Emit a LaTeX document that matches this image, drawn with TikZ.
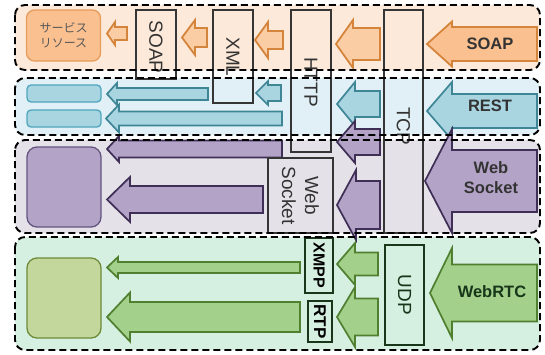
\documentclass[tikz,border=0pt]{standalone}
\usepackage{fontspec}
\setmainfont{Liberation Sans}
\newfontfamily\jpfont{Noto Sans CJK JP}
\usetikzlibrary{positioning}
\definecolor{OrBand}{HTML}{FDE9D9}
\definecolor{OrFill}{HTML}{FAC090}
\definecolor{OrSoft}{HTML}{FBCDA4}
\definecolor{OrLine}{HTML}{D5843C}
\definecolor{OrEdge}{HTML}{E69C5A}
\definecolor{BlBand}{HTML}{E0F0F6}
\definecolor{BlFill}{HTML}{A9D5E1}
\definecolor{BlLine}{HTML}{3E8596}
\definecolor{BlEdge}{HTML}{4FA6BD}
\definecolor{PuBand}{HTML}{E5E1E9}
\definecolor{PuFill}{HTML}{B3A3C7}
\definecolor{PuLine}{HTML}{3F2E55}
\definecolor{PuEdge}{HTML}{64557E}
\definecolor{GrBand}{HTML}{D5F0E1}
\definecolor{GrFill}{HTML}{A3D08A}
\definecolor{GrLine}{HTML}{4F7F2F}
\definecolor{GrBox}{HTML}{C3D69B}
\definecolor{GrEdge}{HTML}{6D8C3A}
\definecolor{GrDark}{HTML}{17361A}
\definecolor{Frame}{HTML}{353535}
\definecolor{DarkText}{HTML}{333333}
\definecolor{SrvText}{HTML}{595959}
\tikzset{
  bandline/.style={draw=black, line width=1.9pt, dash pattern=on 7pt off 4pt, rounded corners=10pt},
  orarr/.style={fill=OrFill, draw=OrLine, line width=1.8pt, line join=miter},
  orsmall/.style={fill=OrSoft, draw=OrLine, line width=1.8pt, line join=miter},
  blarr/.style={fill=BlFill, draw=BlLine, line width=1.7pt, line join=miter},
  puarr/.style={fill=PuFill, draw=PuLine, line width=1.7pt, line join=miter},
  grarr/.style={fill=GrFill, draw=GrLine, line width=1.7pt, line join=miter},
  resbox/.style={rounded corners=#1, line width=1.3pt, inner sep=0pt, minimum width=74pt},
  proto/.style={draw=Frame, line width=1.9pt, inner sep=0pt},
  vlab/.style={rotate=-90, font=\fontsize{19}{23}\selectfont, text=DarkText, align=center},
  vbold/.style={rotate=-90, font=\fontsize{16}{19}\selectfont\bfseries, text=black, inner sep=0pt},
  biglab/.style={font=\fontsize{16.5}{20}\selectfont\bfseries, text=DarkText, align=center}
}
\begin{document}
\begin{tikzpicture}[x=1pt,y=-1pt]
\useasboundingbox (0,0) rectangle (545,354);
% bands
\foreach \ya/\yb/\c in {5/70/OrBand, 78/135/BlBand, 140/233/PuBand, 237/350/GrBand}
  \fill[\c, rounded corners=10pt] (15,\ya) rectangle (540,\yb);

% block arrows: tip x / centre y / head base x / end x / half body / half head
\foreach \tx/\cy/\bx/\ex/\bh/\hh in {427/44/452/537/17/22.5}
  \draw[orarr] (\tx,\cy) -- (\bx,\cy-\hh) -- (\bx,\cy-\bh) -- (\ex,\cy-\bh) -- (\ex,\cy+\bh) -- (\bx,\cy+\bh) -- (\bx,\cy+\hh) -- cycle;
\foreach \tx/\cy/\bx/\ex/\bh/\hh in {107/33.5/115/127/6.5/11.5, 182/37.5/195/207/9.5/17.5, 255/40/268/283/9/18, 336/44/353/380/16/24}
  \draw[orsmall] (\tx,\cy) -- (\bx,\cy-\hh) -- (\bx,\cy-\bh) -- (\ex,\cy-\bh) -- (\ex,\cy+\bh) -- (\bx,\cy+\bh) -- (\bx,\cy+\hh) -- cycle;
\foreach \tx/\cy/\bx/\ex/\bh/\hh in {107/94/117/208/6/11, 106/118.5/119/282/7/14, 256/93/268/281/8/12, 337/104/355/380/13/22, 427/111/452/537/17/29}
  \draw[blarr] (\tx,\cy) -- (\bx,\cy-\hh) -- (\bx,\cy-\bh) -- (\ex,\cy-\bh) -- (\ex,\cy+\bh) -- (\bx,\cy+\bh) -- (\bx,\cy+\hh) -- cycle;
\foreach \tx/\cy/\bx/\ex/\bh/\hh in {107/149/119/282/8.5/13, 107/199.5/130/263/13.5/22.5, 337/142/355/380/13/21, 337/205/356/380/24/35, 425/181/452/537/31/52}
  \draw[puarr] (\tx,\cy) -- (\bx,\cy-\hh) -- (\bx,\cy-\bh) -- (\ex,\cy-\bh) -- (\ex,\cy+\bh) -- (\bx,\cy+\bh) -- (\bx,\cy+\hh) -- cycle;
\foreach \tx/\cy/\bx/\ex/\bh/\hh in {107/267.5/118/300/5.5/10.5, 107/317/130/300/15/24.5, 337/264/355/378/11.5/21, 337/317/355/378/18.5/30, 430/293/452/537/28.5/45}
  \draw[grarr] (\tx,\cy) -- (\bx,\cy-\hh) -- (\bx,\cy-\bh) -- (\ex,\cy-\bh) -- (\ex,\cy+\bh) -- (\bx,\cy+\bh) -- (\bx,\cy+\hh) -- cycle;

% resources
\node[resbox=8pt, fill=OrFill, draw=OrEdge, minimum height=51pt, text=SrvText, align=center,
  font=\jpfont\fontsize{12}{15}\selectfont] (srv) at (63.5,35.5) {サービス\\リソース};
\node[resbox=4pt, fill=BlFill, draw=BlEdge, minimum height=17pt] (rest1) at (64,93.5) {};
\node[resbox=4pt, fill=BlFill, draw=BlEdge, minimum height=17pt] (rest2) at (64,118.5) {};
\node[resbox=10pt, fill=PuFill, draw=PuEdge, minimum height=80pt] (wsres) at (64,187) {};
\node[resbox=10pt, fill=GrBox, draw=GrEdge, minimum height=80pt] (rtcres) at (64,298) {};

% protocol stack
\node[proto, minimum width=40pt, minimum height=69pt] (soap) at (156,44.5) {};
\node[vlab] (soaplab) at (156,47) {SOAP};
\node[proto, minimum width=40pt, minimum height=93pt] (xml) at (233,56.5) {};
\node[vlab] (xmllab) at (233,57) {XML};
\node[proto, minimum width=40pt, minimum height=142pt] (http) at (311,81) {};
\node[vlab] (httplab) at (311,82) {HTTP};
\node[proto, minimum width=39pt, minimum height=223pt] (tcp) at (403.5,121.5) {};
\node[vlab] (tcplab) at (403.5,126) {TCP};
\node[proto, minimum width=65pt, minimum height=75pt, fill=PuBand] (ws) at (300.5,195.5) {};
\node[vlab] (wslab) at (ws.center) {Web\\Socket};
\node[proto, minimum width=28pt, minimum height=55pt, draw=GrDark, line width=1.5pt] (xmpp) at (319,265.5) {};
\node[vbold] (xmpplab) at (xmpp.center) {XMPP};
\node[proto, minimum width=24pt, minimum height=41pt, draw=GrDark, line width=1.5pt] (rtp) at (320,321.5) {};
\node[vbold, font=\fontsize{17}{20}\selectfont\bfseries] (rtplab) at (rtp.center) {RTP};
\node[proto, minimum width=39pt, minimum height=100pt, draw=GrDark, line width=2.4pt] (udp) at (404.5,295) {};
\node[vlab, text=GrDark] (udplab) at (udp.center) {UDP};

% app labels
\node[biglab] (soapapp) at (490,44) {SOAP};
\node[biglab] (restapp) at (490,106) {REST};
\node[biglab] (wsapp) at (491,178) {Web\\Socket};
\node[biglab, text=GrDark] (rtcapp) at (492,292) {WebRTC};

% dashed band frames
\foreach \ya/\yb in {5/70, 78/135, 140/233, 237/350}
  \draw[bandline] (15,\ya) rectangle (540,\yb);
\end{tikzpicture}
\end{document}
